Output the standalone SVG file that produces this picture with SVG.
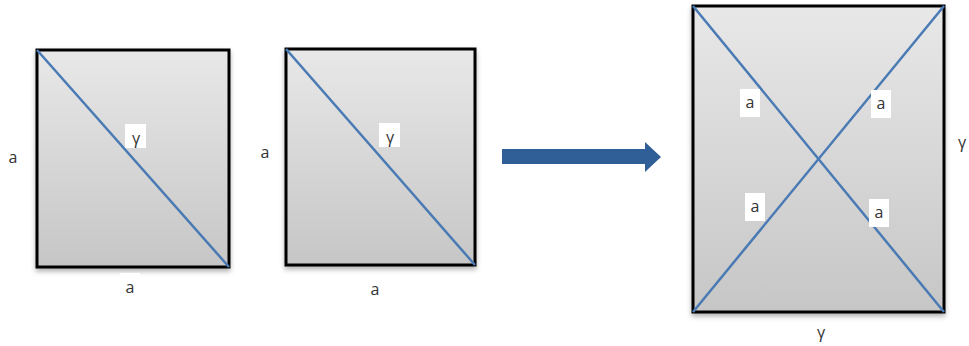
<svg xmlns="http://www.w3.org/2000/svg" width="969" height="346" viewBox="0 0 969 346">
<defs>
<linearGradient id="g" x1="0" y1="0" x2="0" y2="1">
<stop offset="0" stop-color="#e8e8e8"/>
<stop offset="1" stop-color="#c6c6c6"/>
</linearGradient>
<filter id="sh" x="-10%" y="-10%" width="120%" height="125%">
<feDropShadow dx="0" dy="3" stdDeviation="2.5" flood-color="#000" flood-opacity="0.3"/>
</filter>
</defs>
<style>
.box{fill:url(#g);stroke:#000;stroke-width:3;filter:url(#sh)}
.diag{stroke:#4a7ab4;stroke-width:2.5;fill:none}
.lb{fill:#fff}
.t{font-family:"Open Sans","Liberation Sans",sans-serif;font-size:16px;fill:#333;text-anchor:middle}
</style>
<rect width="969" height="346" fill="#fff"/>
<g id="square1">
<rect class="box" x="37" y="50" width="192" height="217"/>
<line class="diag" x1="37" y1="50" x2="229" y2="267"/>
<rect class="lb" x="125" y="124" width="21" height="24"/>
<text class="t" x="136" y="144">γ</text>
<text class="t" x="13" y="163">a</text>
<rect class="lb" x="120" y="273" width="20" height="26"/>
<text class="t" x="130" y="293">a</text>
</g>
<g id="square2">
<rect class="box" x="286" y="49" width="189" height="216"/>
<line class="diag" x1="286" y1="49" x2="475" y2="265"/>
<rect class="lb" x="379" y="123" width="21" height="24"/>
<text class="t" x="390" y="143">γ</text>
<text class="t" x="265" y="158">a</text>
<text class="t" x="375" y="295">a</text>
</g>
<g id="square3">
<rect class="box" x="693" y="6" width="251" height="306"/>
<line class="diag" x1="693" y1="6" x2="944" y2="312"/>
<line class="diag" x1="944" y1="6" x2="693" y2="312"/>
<rect class="lb" x="740" y="89" width="20" height="28"/>
<text class="t" x="750" y="108">a</text>
<rect class="lb" x="871" y="90" width="20" height="28"/>
<text class="t" x="881" y="109">a</text>
<rect class="lb" x="745" y="193" width="20" height="28"/>
<text class="t" x="755" y="212">a</text>
<rect class="lb" x="869" y="199" width="20" height="28"/>
<text class="t" x="879" y="218">a</text>
<text class="t" x="962" y="148">γ</text>
<text class="t" x="821" y="338">γ</text>
</g>
<g id="connectors">
<polygon points="502,149 645,149 645,142 661,157 645,172 645,164 502,164" fill="#2f5f96"/>
</g>
</svg>
